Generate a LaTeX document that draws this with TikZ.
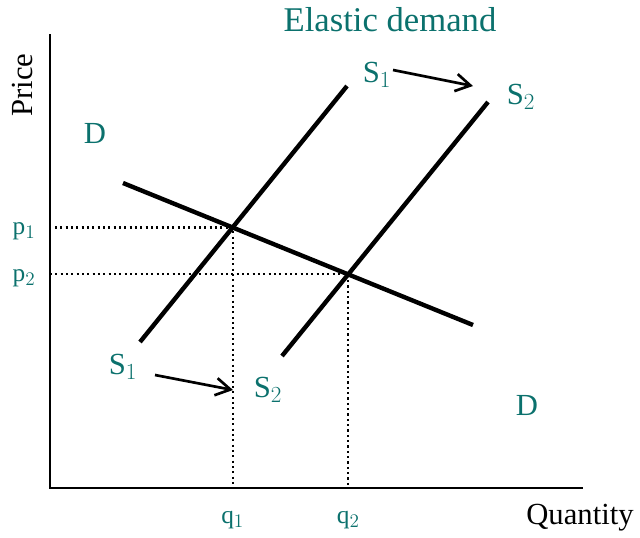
\documentclass[tikz,border=0pt]{standalone}
\usepackage{fontspec}
\setmainfont{Liberation Serif}
\usepackage{xcolor}
\usepackage{tikz}
\usetikzlibrary{arrows.meta, positioning, calc}
\definecolor{kteal}{HTML}{0B716D}

\begin{document}
\begin{tikzpicture}[x=0.75pt, y=-0.75pt,
  axis/.style={line width=2pt},
  curve/.style={line width=3.3pt},
  guide/.style={line width=1.6pt, dash pattern=on 1.6pt off 2.4pt},
  movearrow/.style={line width=2pt, -{Straight Barb[length=11pt, width=13pt]}},
  lbl/.style={font=\fontsize{23}{26}\selectfont, text=kteal, inner sep=0pt},
  small/.style={font=\fontsize{19}{22}\selectfont, text=kteal, inner sep=0pt},
  axlbl/.style={font=\fontsize{23}{26}\selectfont, text=black, inner sep=0pt}]
\useasboundingbox (0,0) rectangle (640,537);
% axes
\coordinate (origin) at (50,488);
\coordinate (ytop) at (50,34);
\coordinate (xend) at (583,488);
\draw[axis] (ytop) -- (origin) -- (xend);
% demand and supply curves
\coordinate (dA) at (123,183);
\coordinate (dB) at (473,325);
\coordinate (sA) at (140,342);
\coordinate (sB) at (347,86);
\coordinate (tA) at (282,356);
\coordinate (tB) at (488,102);
\draw[curve] (dA) -- (dB);
\draw[curve] (sA) -- (sB);
\draw[curve] (tA) -- (tB);
% equilibrium points
\coordinate (e1) at (intersection of dA--dB and sA--sB);
\coordinate (e2) at (intersection of dA--dB and tA--tB);
\coordinate (p1end) at (55,0 |- e1);
\coordinate (p2end) at (50,0 |- e2);
\draw[guide] (p1end) -- (e1) -- (e1 |- origin);
\draw[guide] (p2end) -- (e2) -- (e2 |- origin);
% labels
\node[axlbl, rotate=90] (price) at (22,85) {Price};
\node[axlbl] (qty) at (580,518) {Quantity};
\node[lbl, font=\fontsize{26}{30}\selectfont] (title) at (390,20) {Elastic demand};
\node[lbl] (dtop) at (95,133) {D};
\node[lbl] (dbot) at (527,405) {D};
\node[lbl] (s1top) at (377,75) {S$_1$};
\node[lbl] (s2top) at (521,97) {S$_2$};
\node[lbl] (s1bot) at (123,367) {S$_1$};
\node[lbl] (s2bot) at (268,390) {S$_2$};
\node[small] (p1) at (24,231) {p$_1$};
\node[small] (p2) at (24,278) {p$_2$};
\node[small] (q1) at (e1 |- 0,520) {q$_1$};
\node[small] (q2) at (e2 |- 0,520) {q$_2$};
% shift arrows
\coordinate (a1) at (393,70);
\coordinate (a2) at (473,86);
\coordinate (b1) at (155,375);
\coordinate (b2) at (233,390);
\draw[movearrow] (a1) -- (a2);
\draw[movearrow] (b1) -- (b2);
\end{tikzpicture}
\end{document}
